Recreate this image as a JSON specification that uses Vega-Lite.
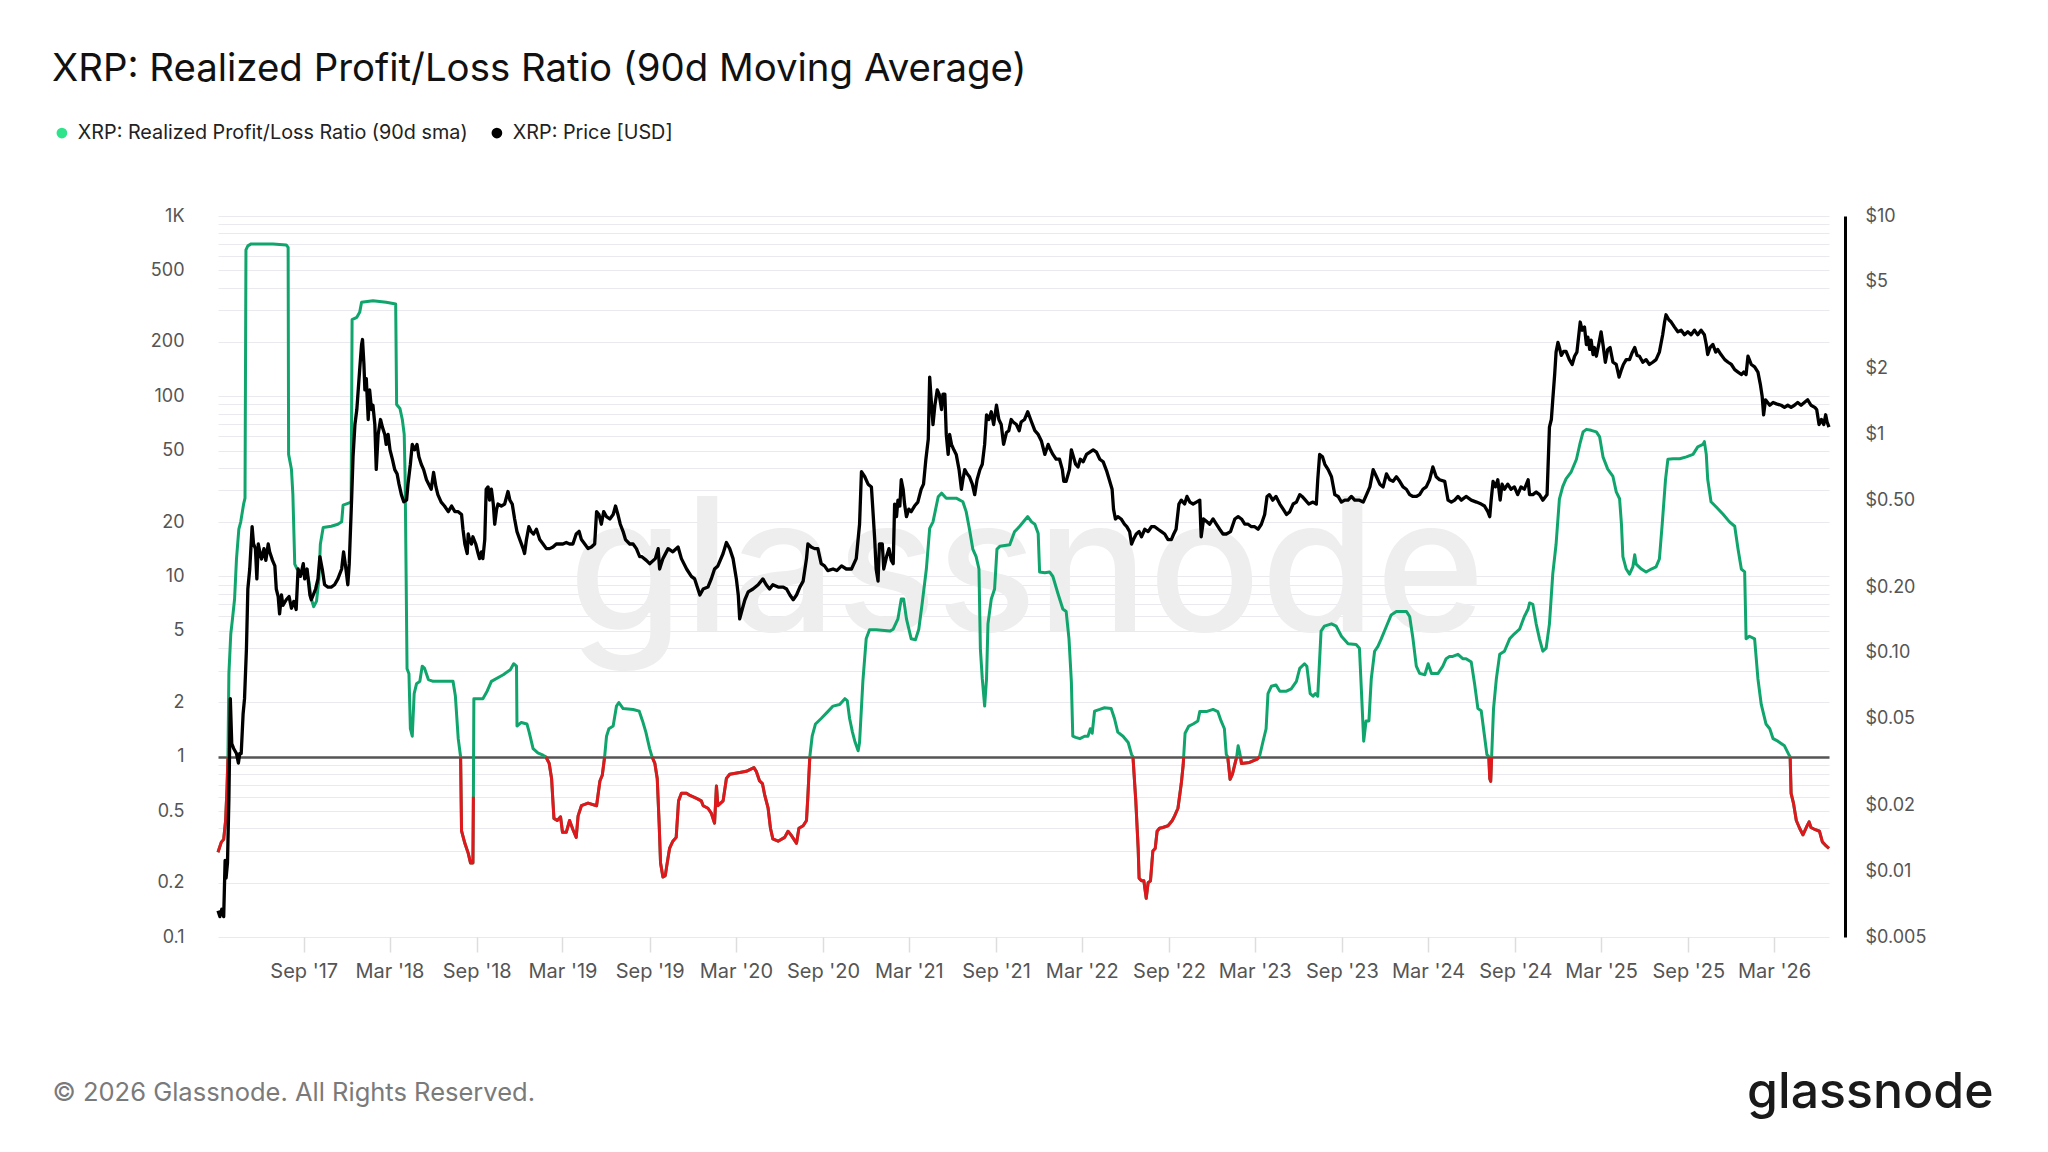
{
  "$schema": "https://vega.github.io/schema/vega-lite/v6.json",
  "width": 1611,
  "height": 721,
  "autosize": {"type": "none"},
  "padding": {"left": 218, "top": 216, "right": 219, "bottom": 215},
  "background": "white",
  "config": {"font": "Inter", "view": {"stroke": null}},
  "title": {
    "text": "XRP: Realized Profit/Loss Ratio (90d Moving Average)",
    "anchor": "start", "frame": "group", "dx": -166, "offset": 4,
    "baseline": "alphabetic", "fontSize": 38.4, "fontWeight": 400, "color": "#111111"
  },
  "datasets": {
    "ratio": [
      {"d":"2017-03-04","r":0.295,"s":1},{"d":"2017-03-11","r":0.336,"s":1},{"d":"2017-03-16","r":0.348,"s":1},{"d":"2017-03-20","r":0.441,"s":1},{"d":"2017-03-23","r":0.667,"s":1},{"d":"2017-03-25","r":1.0,"s":1},
      {"d":"2017-03-27","r":2.89},{"d":"2017-03-31","r":4.81},{"d":"2017-04-03","r":5.64},{"d":"2017-04-08","r":7.5},{"d":"2017-04-12","r":12.5},{"d":"2017-04-17","r":18.3},{"d":"2017-04-21","r":20.1},{"d":"2017-04-27","r":25.2},{"d":"2017-04-30","r":27.2},
      {"d":"2017-05-02","r":649},{"d":"2017-05-06","r":683},{"d":"2017-05-13","r":700},{"d":"2017-06-28","r":700},{"d":"2017-07-26","r":691},{"d":"2017-07-30","r":670},{"d":"2017-07-31","r":47.6},
      {"d":"2017-08-06","r":39.4},{"d":"2017-08-09","r":28.6},{"d":"2017-08-13","r":11.7},{"d":"2017-08-18","r":11},{"d":"2017-08-27","r":10.5},{"d":"2017-09-07","r":10.5},{"d":"2017-09-11","r":9.7},{"d":"2017-09-17","r":7.5},{"d":"2017-09-22","r":6.8},{"d":"2017-09-28","r":7.3},
      {"d":"2017-10-03","r":9.7},{"d":"2017-10-06","r":15.1},{"d":"2017-10-12","r":18.7},{"d":"2017-10-29","r":19},{"d":"2017-11-12","r":19.5},{"d":"2017-11-20","r":20.1},{"d":"2017-11-23","r":24.9},{"d":"2017-12-06","r":25.6},{"d":"2017-12-10","r":26},
      {"d":"2017-12-12","r":266},{"d":"2017-12-22","r":274},{"d":"2017-12-28","r":292},{"d":"2018-01-01","r":332},{"d":"2018-01-25","r":339},{"d":"2018-02-22","r":332},{"d":"2018-03-14","r":325},
      {"d":"2018-03-16","r":90},{"d":"2018-03-23","r":85.5},{"d":"2018-03-28","r":74.3},{"d":"2018-04-01","r":61.4},{"d":"2018-04-03","r":34.6},{"d":"2018-04-05","r":10.3},{"d":"2018-04-07","r":3.08},{"d":"2018-04-11","r":2.89},{"d":"2018-04-14","r":1.43},{"d":"2018-04-18","r":1.3},
      {"d":"2018-04-22","r":2.24},{"d":"2018-04-27","r":2.54},{"d":"2018-05-04","r":2.62},{"d":"2018-05-09","r":3.18},{"d":"2018-05-14","r":3.09},{"d":"2018-05-22","r":2.68},{"d":"2018-06-01","r":2.62},{"d":"2018-07-13","r":2.62},{"d":"2018-07-18","r":2.17},{"d":"2018-07-24","r":1.26},
      {"d":"2018-07-29","r":1.0,"s":2},{"d":"2018-07-31","r":0.388,"s":2},{"d":"2018-08-07","r":0.331,"s":2},{"d":"2018-08-14","r":0.292,"s":2},{"d":"2018-08-19","r":0.257,"s":2},{"d":"2018-08-24","r":0.257,"s":2},{"d":"2018-08-25","r":0.6,"s":2},
      {"d":"2018-08-26","r":2.1},{"d":"2018-09-14","r":2.1},{"d":"2018-09-23","r":2.31},{"d":"2018-10-02","r":2.62},{"d":"2018-10-27","r":2.85},{"d":"2018-11-11","r":3.04},{"d":"2018-11-18","r":3.28},{"d":"2018-11-24","r":3.18},{"d":"2018-11-25","r":1.48},
      {"d":"2018-12-04","r":1.55},{"d":"2018-12-16","r":1.52},{"d":"2018-12-21","r":1.36},{"d":"2018-12-29","r":1.11},{"d":"2019-01-08","r":1.05},{"d":"2019-01-19","r":1.02},
      {"d":"2019-01-25","r":1.0,"s":3},{"d":"2019-02-01","r":0.918,"s":3},{"d":"2019-02-06","r":0.758,"s":3},{"d":"2019-02-11","r":0.455,"s":3},{"d":"2019-02-18","r":0.443,"s":3},{"d":"2019-02-25","r":0.464,"s":3},{"d":"2019-03-01","r":0.381,"s":3},{"d":"2019-03-09","r":0.381,"s":3},{"d":"2019-03-16","r":0.443,"s":3},{"d":"2019-03-23","r":0.395,"s":3},{"d":"2019-03-30","r":0.357,"s":3},{"d":"2019-04-03","r":0.47,"s":3},{"d":"2019-04-10","r":0.535,"s":3},{"d":"2019-04-24","r":0.553,"s":3},{"d":"2019-05-12","r":0.535,"s":3},{"d":"2019-05-19","r":0.734,"s":3},{"d":"2019-05-24","r":0.79,"s":3},{"d":"2019-05-29","r":1.0,"s":3},
      {"d":"2019-06-02","r":1.3},{"d":"2019-06-07","r":1.43},{"d":"2019-06-16","r":1.48},{"d":"2019-06-23","r":1.91},{"d":"2019-06-28","r":2.0},{"d":"2019-07-07","r":1.85},{"d":"2019-07-28","r":1.83},{"d":"2019-08-10","r":1.79},{"d":"2019-08-17","r":1.58},{"d":"2019-08-24","r":1.37},{"d":"2019-09-01","r":1.11},
      {"d":"2019-09-06","r":1.0,"s":4},{"d":"2019-09-12","r":0.918,"s":4},{"d":"2019-09-17","r":0.758,"s":4},{"d":"2019-09-21","r":0.428,"s":4},{"d":"2019-09-24","r":0.257,"s":4},{"d":"2019-09-29","r":0.215,"s":4},{"d":"2019-10-04","r":0.219,"s":4},{"d":"2019-10-08","r":0.257,"s":4},{"d":"2019-10-13","r":0.31,"s":4},{"d":"2019-10-20","r":0.34,"s":4},{"d":"2019-10-27","r":0.357,"s":4},{"d":"2019-11-01","r":0.569,"s":4},{"d":"2019-11-07","r":0.627,"s":4},{"d":"2019-11-18","r":0.627,"s":4},{"d":"2019-11-25","r":0.61,"s":4},{"d":"2019-12-09","r":0.587,"s":4},{"d":"2019-12-19","r":0.569,"s":4},{"d":"2019-12-23","r":0.535,"s":4},
      {"d":"2020-01-02","r":0.518,"s":4},{"d":"2020-01-09","r":0.487,"s":4},{"d":"2020-01-16","r":0.428,"s":4},{"d":"2020-01-20","r":0.689,"s":4},{"d":"2020-01-23","r":0.535,"s":4},{"d":"2020-02-03","r":0.569,"s":4},{"d":"2020-02-10","r":0.758,"s":4},{"d":"2020-02-17","r":0.8,"s":4},{"d":"2020-03-09","r":0.818,"s":4},{"d":"2020-03-23","r":0.83,"s":4},{"d":"2020-04-08","r":0.87,"s":4},{"d":"2020-04-13","r":0.83,"s":4},{"d":"2020-04-20","r":0.734,"s":4},{"d":"2020-04-26","r":0.71,"s":4},{"d":"2020-05-01","r":0.61,"s":4},{"d":"2020-05-08","r":0.518,"s":4},{"d":"2020-05-13","r":0.401,"s":4},{"d":"2020-05-18","r":0.35,"s":4},{"d":"2020-05-29","r":0.34,"s":4},{"d":"2020-06-12","r":0.357,"s":4},{"d":"2020-06-19","r":0.386,"s":4},{"d":"2020-06-26","r":0.366,"s":4},{"d":"2020-07-07","r":0.331,"s":4},{"d":"2020-07-12","r":0.401,"s":4},{"d":"2020-07-21","r":0.414,"s":4},{"d":"2020-07-28","r":0.443,"s":4},{"d":"2020-07-31","r":0.61,"s":4},{"d":"2020-08-04","r":1.0,"s":4},
      {"d":"2020-08-09","r":1.3},{"d":"2020-08-16","r":1.52},{"d":"2020-08-28","r":1.63},{"d":"2020-09-11","r":1.78},{"d":"2020-09-22","r":1.91},{"d":"2020-10-06","r":1.95},{"d":"2020-10-17","r":2.1},{"d":"2020-10-22","r":2.05},{"d":"2020-10-27","r":1.63},{"d":"2020-11-02","r":1.37},{"d":"2020-11-07","r":1.22},{"d":"2020-11-14","r":1.08},{"d":"2020-11-17","r":1.2},{"d":"2020-11-24","r":2.62},{"d":"2020-12-01","r":4.51},{"d":"2020-12-08","r":5.06},{"d":"2020-12-22","r":5.06},
      {"d":"2021-01-20","r":4.98},{"d":"2021-01-27","r":5.1},{"d":"2021-02-06","r":5.82},{"d":"2021-02-13","r":7.5},{"d":"2021-02-18","r":7.5},{"d":"2021-02-24","r":5.82},{"d":"2021-03-06","r":4.51},{"d":"2021-03-15","r":4.46},{"d":"2021-03-22","r":5.1},{"d":"2021-03-29","r":7.05},{"d":"2021-04-07","r":11},{"d":"2021-04-14","r":18.5},{"d":"2021-04-21","r":20.1},{"d":"2021-05-02","r":27.7},{"d":"2021-05-09","r":29},{"d":"2021-05-19","r":27.2},{"d":"2021-06-09","r":27.2},{"d":"2021-06-23","r":26},{"d":"2021-06-30","r":22.9},
      {"d":"2021-07-07","r":18.3},{"d":"2021-07-14","r":14.2},{"d":"2021-07-21","r":12.9},{"d":"2021-07-27","r":11},{"d":"2021-07-30","r":3.97},{"d":"2021-08-03","r":2.71},{"d":"2021-08-08","r":1.91},{"d":"2021-08-12","r":2.71},{"d":"2021-08-15","r":5.46},{"d":"2021-08-22","r":7.5},{"d":"2021-08-29","r":8.53},{"d":"2021-09-03","r":14.2},{"d":"2021-09-09","r":14.7},{"d":"2021-09-30","r":15},{"d":"2021-10-10","r":17.7},{"d":"2021-10-21","r":19},{"d":"2021-11-07","r":21.5},{"d":"2021-11-15","r":20.1},{"d":"2021-11-22","r":19.5},{"d":"2021-11-29","r":17.3},{"d":"2021-12-02","r":10.6},{"d":"2021-12-13","r":10.5},{"d":"2021-12-23","r":10.6},{"d":"2021-12-30","r":10},
      {"d":"2022-01-10","r":8.0},{"d":"2022-01-20","r":6.6},{"d":"2022-01-27","r":6.4},{"d":"2022-02-02","r":4.51},{"d":"2022-02-07","r":2.62},{"d":"2022-02-10","r":1.3},{"d":"2022-02-16","r":1.28},{"d":"2022-02-25","r":1.26},{"d":"2022-03-07","r":1.3},{"d":"2022-03-14","r":1.3},{"d":"2022-03-19","r":1.43},{"d":"2022-03-23","r":1.35},{"d":"2022-03-28","r":1.79},{"d":"2022-04-08","r":1.83},{"d":"2022-04-18","r":1.87},{"d":"2022-05-02","r":1.85},{"d":"2022-05-09","r":1.63},{"d":"2022-05-16","r":1.37},{"d":"2022-05-27","r":1.3},{"d":"2022-06-07","r":1.2},{"d":"2022-06-14","r":1.03},
      {"d":"2022-06-17","r":1.0,"s":5},{"d":"2022-06-23","r":0.569,"s":5},{"d":"2022-06-28","r":0.31,"s":5},{"d":"2022-06-30","r":0.212,"s":5},{"d":"2022-07-05","r":0.205,"s":5},{"d":"2022-07-10","r":0.205,"s":5},{"d":"2022-07-15","r":0.164,"s":5},{"d":"2022-07-19","r":0.2,"s":5},{"d":"2022-07-24","r":0.205,"s":5},{"d":"2022-07-29","r":0.3,"s":5},{"d":"2022-08-03","r":0.31,"s":5},{"d":"2022-08-07","r":0.386,"s":5},{"d":"2022-08-12","r":0.401,"s":5},{"d":"2022-08-19","r":0.405,"s":5},{"d":"2022-08-30","r":0.414,"s":5},{"d":"2022-09-08","r":0.443,"s":5},{"d":"2022-09-13","r":0.47,"s":5},{"d":"2022-09-20","r":0.518,"s":5},{"d":"2022-09-27","r":0.71,"s":5},{"d":"2022-10-01","r":0.9,"s":5},{"d":"2022-10-02","r":1.0,"s":5},
      {"d":"2022-10-05","r":1.35},{"d":"2022-10-13","r":1.48},{"d":"2022-10-22","r":1.52},{"d":"2022-11-01","r":1.58},{"d":"2022-11-05","r":1.78},{"d":"2022-11-19","r":1.78},{"d":"2022-12-03","r":1.83},{"d":"2022-12-13","r":1.78},{"d":"2022-12-20","r":1.58},{"d":"2022-12-27","r":1.43},{"d":"2022-12-31","r":1.03},
      {"d":"2023-01-03","r":1.0,"s":6},{"d":"2023-01-08","r":0.749,"s":6},{"d":"2023-01-13","r":0.8,"s":6},{"d":"2023-01-19","r":0.93,"s":6},{"d":"2023-01-22","r":1.0,"s":6},
      {"d":"2023-01-25","r":1.15},{"d":"2023-01-28","r":1.06},
      {"d":"2023-01-30","r":1.0,"s":7},{"d":"2023-02-01","r":0.918,"s":7},{"d":"2023-02-18","r":0.93,"s":7},{"d":"2023-03-06","r":0.97,"s":7},{"d":"2023-03-11","r":1.0,"s":7},
      {"d":"2023-03-18","r":1.2},{"d":"2023-03-25","r":1.43},{"d":"2023-03-29","r":2.24},{"d":"2023-04-05","r":2.46},{"d":"2023-04-15","r":2.5},{"d":"2023-04-23","r":2.31},{"d":"2023-05-07","r":2.31},{"d":"2023-05-17","r":2.38},{"d":"2023-05-28","r":2.62},{"d":"2023-06-04","r":3.09},{"d":"2023-06-14","r":3.28},{"d":"2023-06-19","r":3.18},{"d":"2023-06-26","r":2.24},{"d":"2023-07-02","r":2.17},{"d":"2023-07-07","r":2.24},{"d":"2023-07-12","r":2.17},{"d":"2023-07-19","r":4.98},{"d":"2023-07-26","r":5.3},{"d":"2023-08-10","r":5.46},{"d":"2023-08-20","r":5.3},{"d":"2023-08-31","r":4.66},{"d":"2023-09-14","r":4.24},{"d":"2023-10-01","r":4.2},{"d":"2023-10-08","r":4.0},{"d":"2023-10-12","r":2.38},{"d":"2023-10-17","r":1.22},{"d":"2023-10-22","r":1.58},{"d":"2023-10-28","r":1.58},{"d":"2023-11-02","r":2.71},{"d":"2023-11-09","r":3.85},{"d":"2023-11-16","r":4.1},{"d":"2023-11-23","r":4.51},{"d":"2023-12-04","r":5.3},{"d":"2023-12-14","r":6.12},{"d":"2023-12-25","r":6.4},
      {"d":"2024-01-15","r":6.4},{"d":"2024-01-22","r":6.0},{"d":"2024-01-29","r":4.51},{"d":"2024-02-05","r":3.18},{"d":"2024-02-12","r":2.9},{"d":"2024-02-23","r":2.85},{"d":"2024-03-01","r":3.28},{"d":"2024-03-08","r":2.9},{"d":"2024-03-22","r":2.9},{"d":"2024-04-01","r":3.18},{"d":"2024-04-08","r":3.5},{"d":"2024-04-15","r":3.6},{"d":"2024-04-22","r":3.6},{"d":"2024-05-03","r":3.7},{"d":"2024-05-13","r":3.5},{"d":"2024-05-20","r":3.5},{"d":"2024-05-31","r":3.35},{"d":"2024-06-07","r":2.54},{"d":"2024-06-14","r":1.85},{"d":"2024-06-21","r":1.8},{"d":"2024-06-28","r":1.3},{"d":"2024-07-03","r":1.03},
      {"d":"2024-07-07","r":1.0,"s":8},{"d":"2024-07-09","r":0.758,"s":8},{"d":"2024-07-11","r":0.73,"s":8},{"d":"2024-07-13","r":1.0,"s":8},
      {"d":"2024-07-17","r":1.85},{"d":"2024-07-23","r":2.71},{"d":"2024-07-30","r":3.7},{"d":"2024-08-09","r":3.85},{"d":"2024-08-20","r":4.51},{"d":"2024-08-30","r":4.81},{"d":"2024-09-10","r":5.1},{"d":"2024-09-20","r":6.0},{"d":"2024-09-28","r":6.6},{"d":"2024-10-01","r":7.13},{"d":"2024-10-08","r":7.0},{"d":"2024-10-15","r":5.46},{"d":"2024-10-22","r":4.51},{"d":"2024-10-29","r":3.85},{"d":"2024-11-05","r":4.0},{"d":"2024-11-12","r":5.46},{"d":"2024-11-19","r":10.3},{"d":"2024-11-26","r":15.1},{"d":"2024-12-03","r":26.9},{"d":"2024-12-10","r":31.5},{"d":"2024-12-17","r":34.8},{"d":"2024-12-28","r":38.1},
      {"d":"2025-01-08","r":44.7},{"d":"2025-01-15","r":54},{"d":"2025-01-22","r":63.4},{"d":"2025-01-29","r":65.5},{"d":"2025-02-08","r":64.7},{"d":"2025-02-19","r":63.4},{"d":"2025-02-26","r":59.5},{"d":"2025-03-05","r":46.1},{"d":"2025-03-15","r":39.4},{"d":"2025-03-26","r":35.9},{"d":"2025-04-02","r":29.5},{"d":"2025-04-09","r":27},{"d":"2025-04-13","r":19.5},{"d":"2025-04-16","r":12.9},{"d":"2025-04-23","r":11},{"d":"2025-04-30","r":10.3},{"d":"2025-05-07","r":11.3},{"d":"2025-05-11","r":13.2},{"d":"2025-05-14","r":11.7},{"d":"2025-05-25","r":11},{"d":"2025-06-04","r":10.6},{"d":"2025-06-15","r":11},{"d":"2025-06-25","r":11.3},
      {"d":"2025-07-02","r":12.5},{"d":"2025-07-08","r":19.5},{"d":"2025-07-15","r":34.6},{"d":"2025-07-20","r":44.7},{"d":"2025-07-31","r":45},{"d":"2025-08-14","r":45},{"d":"2025-08-28","r":46.1},{"d":"2025-09-11","r":47.6},{"d":"2025-09-21","r":52.4},{"d":"2025-10-02","r":54},{"d":"2025-10-05","r":56},{"d":"2025-10-09","r":47.6},{"d":"2025-10-12","r":34.6},{"d":"2025-10-19","r":26},{"d":"2025-10-30","r":24.3},{"d":"2025-11-13","r":22.2},{"d":"2025-11-27","r":20.1},{"d":"2025-12-08","r":19},{"d":"2025-12-15","r":14.2},{"d":"2025-12-22","r":11},{"d":"2025-12-29","r":10.6},
      {"d":"2026-01-01","r":4.51},{"d":"2026-01-08","r":4.66},{"d":"2026-01-19","r":4.51},{"d":"2026-01-26","r":2.71},{"d":"2026-02-02","r":1.95},{"d":"2026-02-12","r":1.52},{"d":"2026-02-20","r":1.43},{"d":"2026-02-27","r":1.26},{"d":"2026-03-09","r":1.22},{"d":"2026-03-23","r":1.15},{"d":"2026-04-01","r":1.03},
      {"d":"2026-04-04","r":1.0,"s":9},{"d":"2026-04-06","r":0.627,"s":9},{"d":"2026-04-11","r":0.553,"s":9},{"d":"2026-04-17","r":0.443,"s":9},{"d":"2026-04-24","r":0.401,"s":9},{"d":"2026-05-01","r":0.369,"s":9},{"d":"2026-05-08","r":0.405,"s":9},{"d":"2026-05-14","r":0.435,"s":9},{"d":"2026-05-18","r":0.405,"s":9},{"d":"2026-05-26","r":0.395,"s":9},{"d":"2026-06-05","r":0.386,"s":9},{"d":"2026-06-11","r":0.337,"s":9},{"d":"2026-06-19","r":0.32,"s":9},{"d":"2026-06-25","r":0.31,"s":9}
    ],
    "price": [
      {"d":"2017-03-04","p":0.0066},{"d":"2017-03-08","p":0.0062},{"d":"2017-03-12","p":0.0067},{"d":"2017-03-16","p":0.0062},{"d":"2017-03-19","p":0.0112},{"d":"2017-03-21","p":0.0093},{"d":"2017-03-24","p":0.0109},{"d":"2017-03-27","p":0.0215},{"d":"2017-03-30","p":0.0617},
      {"d":"2017-04-02","p":0.0384},{"d":"2017-04-06","p":0.0365},{"d":"2017-04-12","p":0.0346},{"d":"2017-04-16","p":0.0313},{"d":"2017-04-19","p":0.0346},{"d":"2017-04-22","p":0.0346},{"d":"2017-04-26","p":0.0526},{"d":"2017-04-29","p":0.0617},
      {"d":"2017-05-03","p":0.104},{"d":"2017-05-06","p":0.196},{"d":"2017-05-10","p":0.242},{"d":"2017-05-15","p":0.378},{"d":"2017-05-18","p":0.315},{"d":"2017-05-22","p":0.3},{"d":"2017-05-25","p":0.218},{"d":"2017-05-28","p":0.315},{"d":"2017-06-01","p":0.285},{"d":"2017-06-04","p":0.269},{"d":"2017-06-09","p":0.3},{"d":"2017-06-13","p":0.265},{"d":"2017-06-18","p":0.315},{"d":"2017-06-21","p":0.29},{"d":"2017-06-27","p":0.265},
      {"d":"2017-07-02","p":0.25},{"d":"2017-07-05","p":0.196},{"d":"2017-07-09","p":0.181},{"d":"2017-07-12","p":0.151},{"d":"2017-07-16","p":0.184},{"d":"2017-07-19","p":0.165},{"d":"2017-07-26","p":0.175},{"d":"2017-08-01","p":0.181},{"d":"2017-08-06","p":0.16},{"d":"2017-08-11","p":0.172},{"d":"2017-08-16","p":0.158},{"d":"2017-08-20","p":0.242},{"d":"2017-08-25","p":0.224},{"d":"2017-08-31","p":0.256},
      {"d":"2017-09-03","p":0.218},{"d":"2017-09-08","p":0.242},{"d":"2017-09-14","p":0.184},{"d":"2017-09-17","p":0.175},{"d":"2017-09-21","p":0.184},{"d":"2017-09-26","p":0.196},{"d":"2017-10-01","p":0.218},{"d":"2017-10-05","p":0.276},{"d":"2017-10-10","p":0.242},{"d":"2017-10-15","p":0.205},{"d":"2017-10-22","p":0.2},{"d":"2017-10-29","p":0.2},{"d":"2017-11-05","p":0.205},{"d":"2017-11-12","p":0.218},{"d":"2017-11-20","p":0.242},{"d":"2017-11-24","p":0.29},{"d":"2017-11-29","p":0.242},
      {"d":"2017-12-03","p":0.205},{"d":"2017-12-06","p":0.256},{"d":"2017-12-11","p":0.505},{"d":"2017-12-14","p":0.789},{"d":"2017-12-18","p":1.11},{"d":"2017-12-22","p":1.3},{"d":"2017-12-28","p":1.98},{"d":"2018-01-01","p":2.58},{"d":"2018-01-03","p":2.72},{"d":"2018-01-06","p":2.09},{"d":"2018-01-08","p":1.6},{"d":"2018-01-11","p":1.8},{"d":"2018-01-15","p":1.17},{"d":"2018-01-18","p":1.6},{"d":"2018-01-22","p":1.3},{"d":"2018-01-25","p":1.36},{"d":"2018-01-29","p":1.11},
      {"d":"2018-02-01","p":0.692},{"d":"2018-02-05","p":1.0},{"d":"2018-02-10","p":1.17},{"d":"2018-02-14","p":1.08},{"d":"2018-02-19","p":1.0},{"d":"2018-02-22","p":0.9},{"d":"2018-02-26","p":1.0},{"d":"2018-03-02","p":0.85},{"d":"2018-03-07","p":0.77},{"d":"2018-03-12","p":0.69},{"d":"2018-03-17","p":0.66},{"d":"2018-03-21","p":0.592},{"d":"2018-03-26","p":0.53},{"d":"2018-03-31","p":0.492},
      {"d":"2018-04-06","p":0.5},{"d":"2018-04-09","p":0.592},{"d":"2018-04-14","p":0.73},{"d":"2018-04-18","p":0.9},{"d":"2018-04-23","p":0.85},{"d":"2018-04-28","p":0.9},{"d":"2018-05-02","p":0.79},{"d":"2018-05-07","p":0.73},{"d":"2018-05-12","p":0.69},{"d":"2018-05-18","p":0.62},{"d":"2018-05-23","p":0.59},{"d":"2018-05-28","p":0.561},{"d":"2018-06-02","p":0.67},{"d":"2018-06-07","p":0.575},{"d":"2018-06-11","p":0.53},{"d":"2018-06-18","p":0.49},{"d":"2018-06-25","p":0.47},
      {"d":"2018-07-03","p":0.443},{"d":"2018-07-10","p":0.47},{"d":"2018-07-17","p":0.443},{"d":"2018-07-24","p":0.443},{"d":"2018-07-31","p":0.43},{"d":"2018-08-03","p":0.368},{"d":"2018-08-07","p":0.315},{"d":"2018-08-12","p":0.285},{"d":"2018-08-14","p":0.35},{"d":"2018-08-17","p":0.33},{"d":"2018-08-21","p":0.315},{"d":"2018-08-24","p":0.34},{"d":"2018-08-30","p":0.315},
      {"d":"2018-09-04","p":0.285},{"d":"2018-09-07","p":0.27},{"d":"2018-09-11","p":0.29},{"d":"2018-09-14","p":0.27},{"d":"2018-09-18","p":0.33},{"d":"2018-09-21","p":0.561},{"d":"2018-09-25","p":0.575},{"d":"2018-09-28","p":0.5},{"d":"2018-10-02","p":0.561},{"d":"2018-10-06","p":0.48},{"d":"2018-10-09","p":0.388},{"d":"2018-10-13","p":0.455},{"d":"2018-10-16","p":0.48},{"d":"2018-10-23","p":0.47},{"d":"2018-10-30","p":0.48},
      {"d":"2018-11-06","p":0.548},{"d":"2018-11-10","p":0.5},{"d":"2018-11-15","p":0.48},{"d":"2018-11-20","p":0.41},{"d":"2018-11-25","p":0.359},{"d":"2018-12-01","p":0.33},{"d":"2018-12-08","p":0.3},{"d":"2018-12-11","p":0.285},{"d":"2018-12-15","p":0.33},{"d":"2018-12-20","p":0.378},{"d":"2018-12-25","p":0.359},{"d":"2018-12-30","p":0.35},
      {"d":"2019-01-05","p":0.368},{"d":"2019-01-12","p":0.33},{"d":"2019-01-19","p":0.315},{"d":"2019-01-26","p":0.3},{"d":"2019-02-02","p":0.3},{"d":"2019-02-09","p":0.305},{"d":"2019-02-16","p":0.315},{"d":"2019-02-23","p":0.315},{"d":"2019-03-02","p":0.315},{"d":"2019-03-09","p":0.32},{"d":"2019-03-16","p":0.315},{"d":"2019-03-23","p":0.315},{"d":"2019-03-30","p":0.35},{"d":"2019-04-05","p":0.36},{"d":"2019-04-10","p":0.33},{"d":"2019-04-17","p":0.315},{"d":"2019-04-24","p":0.3},{"d":"2019-05-01","p":0.305},{"d":"2019-05-08","p":0.315},
      {"d":"2019-05-12","p":0.443},{"d":"2019-05-17","p":0.43},{"d":"2019-05-22","p":0.388},{"d":"2019-05-27","p":0.443},{"d":"2019-06-02","p":0.42},{"d":"2019-06-09","p":0.41},{"d":"2019-06-16","p":0.43},{"d":"2019-06-21","p":0.47},{"d":"2019-06-26","p":0.43},{"d":"2019-07-01","p":0.388},{"d":"2019-07-07","p":0.359},{"d":"2019-07-12","p":0.33},{"d":"2019-07-21","p":0.315},{"d":"2019-07-28","p":0.315},{"d":"2019-08-04","p":0.3},{"d":"2019-08-11","p":0.276},{"d":"2019-08-15","p":0.276},{"d":"2019-08-25","p":0.265},
      {"d":"2019-09-01","p":0.256},{"d":"2019-09-13","p":0.27},{"d":"2019-09-19","p":0.3},{"d":"2019-09-22","p":0.242},{"d":"2019-09-29","p":0.27},{"d":"2019-10-10","p":0.3},{"d":"2019-10-20","p":0.29},{"d":"2019-10-31","p":0.305},{"d":"2019-11-07","p":0.27},{"d":"2019-11-18","p":0.242},{"d":"2019-11-28","p":0.224},{"d":"2019-12-05","p":0.218},{"d":"2019-12-16","p":0.184},{"d":"2019-12-23","p":0.196},
      {"d":"2020-01-02","p":0.2},{"d":"2020-01-09","p":0.218},{"d":"2020-01-16","p":0.242},{"d":"2020-01-23","p":0.25},{"d":"2020-02-03","p":0.285},{"d":"2020-02-10","p":0.32},{"d":"2020-02-17","p":0.3},{"d":"2020-02-24","p":0.27},{"d":"2020-03-02","p":0.218},{"d":"2020-03-06","p":0.184},{"d":"2020-03-09","p":0.143},{"d":"2020-03-15","p":0.16},{"d":"2020-03-20","p":0.175},{"d":"2020-03-27","p":0.19},
      {"d":"2020-04-06","p":0.196},{"d":"2020-04-17","p":0.205},{"d":"2020-04-27","p":0.218},{"d":"2020-05-04","p":0.205},{"d":"2020-05-11","p":0.196},{"d":"2020-05-18","p":0.205},{"d":"2020-05-29","p":0.2},{"d":"2020-06-09","p":0.2},{"d":"2020-06-16","p":0.196},{"d":"2020-06-23","p":0.184},{"d":"2020-06-30","p":0.175},{"d":"2020-07-07","p":0.184},{"d":"2020-07-14","p":0.2},{"d":"2020-07-21","p":0.213},{"d":"2020-07-28","p":0.27},{"d":"2020-07-31","p":0.315},
      {"d":"2020-08-07","p":0.305},{"d":"2020-08-14","p":0.3},{"d":"2020-08-21","p":0.3},{"d":"2020-08-28","p":0.256},{"d":"2020-09-04","p":0.25},{"d":"2020-09-11","p":0.238},{"d":"2020-09-22","p":0.242},{"d":"2020-09-30","p":0.238},{"d":"2020-10-10","p":0.25},{"d":"2020-10-20","p":0.242},{"d":"2020-10-31","p":0.242},{"d":"2020-11-10","p":0.27},{"d":"2020-11-17","p":0.388},{"d":"2020-11-21","p":0.675},{"d":"2020-11-28","p":0.64},
      {"d":"2020-12-05","p":0.592},{"d":"2020-12-12","p":0.575},{"d":"2020-12-15","p":0.455},{"d":"2020-12-19","p":0.33},{"d":"2020-12-22","p":0.242},{"d":"2020-12-26","p":0.213},{"d":"2020-12-29","p":0.315},{"d":"2021-01-04","p":0.315},{"d":"2021-01-07","p":0.242},{"d":"2021-01-13","p":0.276},{"d":"2021-01-18","p":0.3},{"d":"2021-01-23","p":0.265},{"d":"2021-01-27","p":0.256},{"d":"2021-01-30","p":0.48},
      {"d":"2021-02-03","p":0.42},{"d":"2021-02-06","p":0.5},{"d":"2021-02-10","p":0.47},{"d":"2021-02-13","p":0.62},{"d":"2021-02-17","p":0.561},{"d":"2021-02-20","p":0.48},{"d":"2021-02-24","p":0.42},{"d":"2021-03-01","p":0.455},{"d":"2021-03-06","p":0.443},{"d":"2021-03-13","p":0.47},{"d":"2021-03-20","p":0.49},{"d":"2021-03-27","p":0.561},{"d":"2021-04-01","p":0.592},{"d":"2021-04-06","p":0.77},{"d":"2021-04-11","p":0.95},{"d":"2021-04-14","p":1.83},{"d":"2021-04-18","p":1.36},{"d":"2021-04-21","p":1.11},{"d":"2021-04-25","p":1.36},{"d":"2021-04-30","p":1.6},
      {"d":"2021-05-04","p":1.53},{"d":"2021-05-09","p":1.3},{"d":"2021-05-12","p":1.53},{"d":"2021-05-16","p":1.53},{"d":"2021-05-19","p":1.0},{"d":"2021-05-23","p":0.81},{"d":"2021-05-26","p":1.0},{"d":"2021-05-30","p":0.9},{"d":"2021-06-04","p":0.85},{"d":"2021-06-09","p":0.81},{"d":"2021-06-15","p":0.69},{"d":"2021-06-20","p":0.561},{"d":"2021-06-23","p":0.62},{"d":"2021-06-27","p":0.69},{"d":"2021-07-02","p":0.66},{"d":"2021-07-07","p":0.64},{"d":"2021-07-13","p":0.592},{"d":"2021-07-18","p":0.53},{"d":"2021-07-23","p":0.62},{"d":"2021-07-29","p":0.69},
      {"d":"2021-08-03","p":0.73},{"d":"2021-08-08","p":0.9},{"d":"2021-08-12","p":1.23},{"d":"2021-08-17","p":1.17},{"d":"2021-08-22","p":1.27},{"d":"2021-08-27","p":1.11},{"d":"2021-09-02","p":1.36},{"d":"2021-09-07","p":1.17},{"d":"2021-09-12","p":1.11},{"d":"2021-09-17","p":0.9},{"d":"2021-09-23","p":1.02},{"d":"2021-09-28","p":1.04},{"d":"2021-10-03","p":1.17},{"d":"2021-10-07","p":1.14},{"d":"2021-10-14","p":1.11},{"d":"2021-10-20","p":1.04},{"d":"2021-10-24","p":1.14},{"d":"2021-10-31","p":1.17},
      {"d":"2021-11-07","p":1.27},{"d":"2021-11-15","p":1.14},{"d":"2021-11-22","p":1.04},{"d":"2021-11-29","p":1.0},{"d":"2021-12-06","p":0.93},{"d":"2021-12-13","p":0.81},{"d":"2021-12-20","p":0.9},{"d":"2021-12-25","p":0.85},{"d":"2021-12-30","p":0.81},
      {"d":"2022-01-06","p":0.77},{"d":"2022-01-13","p":0.77},{"d":"2022-01-19","p":0.69},{"d":"2022-01-22","p":0.61},{"d":"2022-01-27","p":0.61},{"d":"2022-02-03","p":0.69},{"d":"2022-02-07","p":0.85},{"d":"2022-02-10","p":0.81},{"d":"2022-02-16","p":0.73},{"d":"2022-02-21","p":0.71},{"d":"2022-02-26","p":0.77},{"d":"2022-03-04","p":0.75},{"d":"2022-03-11","p":0.81},{"d":"2022-03-18","p":0.83},{"d":"2022-03-25","p":0.85},{"d":"2022-04-01","p":0.83},{"d":"2022-04-08","p":0.77},{"d":"2022-04-15","p":0.75},{"d":"2022-04-23","p":0.675},{"d":"2022-04-29","p":0.61},
      {"d":"2022-05-04","p":0.561},{"d":"2022-05-07","p":0.455},{"d":"2022-05-11","p":0.41},{"d":"2022-05-16","p":0.42},{"d":"2022-05-23","p":0.41},{"d":"2022-05-30","p":0.388},{"d":"2022-06-04","p":0.378},{"d":"2022-06-10","p":0.359},{"d":"2022-06-14","p":0.315},{"d":"2022-06-18","p":0.33},{"d":"2022-06-24","p":0.35},{"d":"2022-06-30","p":0.359},{"d":"2022-07-05","p":0.34},{"d":"2022-07-12","p":0.368},{"d":"2022-07-19","p":0.359},{"d":"2022-07-26","p":0.378},{"d":"2022-08-02","p":0.378},{"d":"2022-08-09","p":0.368},{"d":"2022-08-16","p":0.359},{"d":"2022-08-23","p":0.35},{"d":"2022-08-30","p":0.33},
      {"d":"2022-09-06","p":0.33},{"d":"2022-09-11","p":0.35},{"d":"2022-09-16","p":0.368},{"d":"2022-09-22","p":0.48},{"d":"2022-09-27","p":0.5},{"d":"2022-10-04","p":0.48},{"d":"2022-10-09","p":0.52},{"d":"2022-10-15","p":0.49},{"d":"2022-10-22","p":0.48},{"d":"2022-10-29","p":0.49},{"d":"2022-11-05","p":0.5},{"d":"2022-11-08","p":0.34},{"d":"2022-11-13","p":0.41},{"d":"2022-11-19","p":0.4},{"d":"2022-11-26","p":0.388},{"d":"2022-12-03","p":0.41},{"d":"2022-12-10","p":0.388},{"d":"2022-12-17","p":0.368},{"d":"2022-12-24","p":0.35},{"d":"2022-12-31","p":0.35},
      {"d":"2023-01-09","p":0.359},{"d":"2023-01-18","p":0.41},{"d":"2023-01-25","p":0.42},{"d":"2023-02-01","p":0.41},{"d":"2023-02-08","p":0.388},{"d":"2023-02-15","p":0.388},{"d":"2023-02-22","p":0.378},{"d":"2023-03-01","p":0.378},{"d":"2023-03-08","p":0.368},{"d":"2023-03-15","p":0.388},{"d":"2023-03-22","p":0.43},{"d":"2023-03-27","p":0.52},{"d":"2023-04-01","p":0.53},{"d":"2023-04-08","p":0.5},{"d":"2023-04-15","p":0.52},{"d":"2023-04-23","p":0.48},{"d":"2023-04-30","p":0.455},
      {"d":"2023-05-07","p":0.43},{"d":"2023-05-14","p":0.443},{"d":"2023-05-21","p":0.48},{"d":"2023-05-28","p":0.49},{"d":"2023-06-04","p":0.53},{"d":"2023-06-09","p":0.52},{"d":"2023-06-16","p":0.5},{"d":"2023-06-23","p":0.48},{"d":"2023-07-02","p":0.49},{"d":"2023-07-09","p":0.48},{"d":"2023-07-12","p":0.62},{"d":"2023-07-16","p":0.81},{"d":"2023-07-22","p":0.79},{"d":"2023-07-27","p":0.73},{"d":"2023-08-03","p":0.69},{"d":"2023-08-10","p":0.64},{"d":"2023-08-17","p":0.53},{"d":"2023-08-24","p":0.52},{"d":"2023-08-31","p":0.49},
      {"d":"2023-09-07","p":0.5},{"d":"2023-09-14","p":0.5},{"d":"2023-09-21","p":0.52},{"d":"2023-09-28","p":0.5},{"d":"2023-10-08","p":0.5},{"d":"2023-10-16","p":0.49},{"d":"2023-10-23","p":0.53},{"d":"2023-10-30","p":0.575},{"d":"2023-11-06","p":0.69},{"d":"2023-11-13","p":0.64},{"d":"2023-11-20","p":0.592},{"d":"2023-11-27","p":0.575},{"d":"2023-12-04","p":0.66},{"d":"2023-12-11","p":0.62},{"d":"2023-12-18","p":0.61},{"d":"2023-12-25","p":0.64},
      {"d":"2024-01-01","p":0.61},{"d":"2024-01-08","p":0.575},{"d":"2024-01-15","p":0.561},{"d":"2024-01-22","p":0.53},{"d":"2024-01-29","p":0.52},{"d":"2024-02-05","p":0.52},{"d":"2024-02-12","p":0.53},{"d":"2024-02-19","p":0.561},{"d":"2024-02-26","p":0.575},{"d":"2024-03-04","p":0.62},{"d":"2024-03-11","p":0.71},{"d":"2024-03-18","p":0.64},{"d":"2024-03-25","p":0.62},{"d":"2024-04-05","p":0.61},{"d":"2024-04-12","p":0.5},{"d":"2024-04-19","p":0.49},{"d":"2024-04-26","p":0.5},
      {"d":"2024-05-03","p":0.52},{"d":"2024-05-10","p":0.5},{"d":"2024-05-20","p":0.52},{"d":"2024-05-31","p":0.5},{"d":"2024-06-11","p":0.49},{"d":"2024-06-21","p":0.48},{"d":"2024-06-28","p":0.47},{"d":"2024-07-05","p":0.443},{"d":"2024-07-09","p":0.42},{"d":"2024-07-12","p":0.5},{"d":"2024-07-16","p":0.61},{"d":"2024-07-21","p":0.575},{"d":"2024-07-26","p":0.62},{"d":"2024-07-31","p":0.5},{"d":"2024-08-04","p":0.592},{"d":"2024-08-09","p":0.561},{"d":"2024-08-16","p":0.592},{"d":"2024-08-23","p":0.561},{"d":"2024-08-30","p":0.575},
      {"d":"2024-09-06","p":0.53},{"d":"2024-09-13","p":0.575},{"d":"2024-09-20","p":0.561},{"d":"2024-09-28","p":0.62},{"d":"2024-10-01","p":0.53},{"d":"2024-10-08","p":0.53},{"d":"2024-10-15","p":0.545},{"d":"2024-10-22","p":0.53},{"d":"2024-10-29","p":0.5},{"d":"2024-11-04","p":0.52},{"d":"2024-11-07","p":0.53},{"d":"2024-11-12","p":1.08},{"d":"2024-11-16","p":1.17},{"d":"2024-11-19","p":1.44},{"d":"2024-11-23","p":1.88},{"d":"2024-11-26","p":2.38},{"d":"2024-11-30","p":2.64},
      {"d":"2024-12-03","p":2.5},{"d":"2024-12-07","p":2.3},{"d":"2024-12-12","p":2.4},{"d":"2024-12-17","p":2.4},{"d":"2024-12-24","p":2.2},{"d":"2024-12-30","p":2.09},{"d":"2025-01-04","p":2.28},{"d":"2025-01-09","p":2.38},{"d":"2025-01-13","p":2.86},{"d":"2025-01-16","p":3.27},{"d":"2025-01-20","p":3.0},{"d":"2025-01-25","p":3.1},{"d":"2025-01-29","p":2.58},{"d":"2025-02-01","p":2.79},{"d":"2025-02-05","p":2.45},{"d":"2025-02-08","p":2.7},{"d":"2025-02-12","p":2.32},{"d":"2025-02-15","p":2.5},{"d":"2025-02-19","p":2.28},{"d":"2025-02-24","p":2.58},
      {"d":"2025-03-01","p":2.95},{"d":"2025-03-05","p":2.58},{"d":"2025-03-10","p":2.14},{"d":"2025-03-15","p":2.45},{"d":"2025-03-20","p":2.5},{"d":"2025-03-26","p":2.14},{"d":"2025-04-02","p":2.09},{"d":"2025-04-08","p":1.83},{"d":"2025-04-13","p":1.98},{"d":"2025-04-17","p":2.09},{"d":"2025-04-23","p":2.2},{"d":"2025-04-30","p":2.2},{"d":"2025-05-06","p":2.38},{"d":"2025-05-11","p":2.5},{"d":"2025-05-16","p":2.3},{"d":"2025-05-21","p":2.28},{"d":"2025-05-28","p":2.14},
      {"d":"2025-06-04","p":2.2},{"d":"2025-06-11","p":2.09},{"d":"2025-06-18","p":2.14},{"d":"2025-06-25","p":2.2},{"d":"2025-07-02","p":2.38},{"d":"2025-07-09","p":2.86},{"d":"2025-07-13","p":3.27},{"d":"2025-07-16","p":3.53},{"d":"2025-07-22","p":3.35},{"d":"2025-07-27","p":3.27},{"d":"2025-08-03","p":3.1},{"d":"2025-08-10","p":2.95},{"d":"2025-08-17","p":3.0},{"d":"2025-08-24","p":2.86},{"d":"2025-08-31","p":2.95},
      {"d":"2025-09-07","p":2.86},{"d":"2025-09-14","p":3.0},{"d":"2025-09-21","p":2.86},{"d":"2025-09-28","p":3.0},{"d":"2025-10-05","p":2.86},{"d":"2025-10-09","p":2.58},{"d":"2025-10-12","p":2.32},{"d":"2025-10-17","p":2.5},{"d":"2025-10-23","p":2.58},{"d":"2025-10-29","p":2.38},{"d":"2025-11-02","p":2.45},{"d":"2025-11-09","p":2.32},{"d":"2025-11-17","p":2.2},{"d":"2025-11-24","p":2.14},{"d":"2025-12-01","p":2.09},{"d":"2025-12-08","p":1.98},{"d":"2025-12-15","p":1.93},{"d":"2025-12-22","p":1.88},{"d":"2025-12-27","p":1.93},
      {"d":"2026-01-01","p":1.88},{"d":"2026-01-05","p":2.28},{"d":"2026-01-12","p":2.09},{"d":"2026-01-19","p":2.04},{"d":"2026-01-26","p":1.93},{"d":"2026-01-31","p":1.7},{"d":"2026-02-04","p":1.49},{"d":"2026-02-07","p":1.23},{"d":"2026-02-11","p":1.44},{"d":"2026-02-20","p":1.36},{"d":"2026-02-27","p":1.4},{"d":"2026-03-06","p":1.38},{"d":"2026-03-16","p":1.36},{"d":"2026-03-23","p":1.33},{"d":"2026-03-30","p":1.36},{"d":"2026-04-06","p":1.33},{"d":"2026-04-13","p":1.36},{"d":"2026-04-20","p":1.4},{"d":"2026-04-27","p":1.36},
      {"d":"2026-05-04","p":1.4},{"d":"2026-05-11","p":1.44},{"d":"2026-05-18","p":1.36},{"d":"2026-05-26","p":1.33},{"d":"2026-05-30","p":1.3},{"d":"2026-06-04","p":1.11},{"d":"2026-06-09","p":1.17},{"d":"2026-06-14","p":1.11},{"d":"2026-06-18","p":1.23},{"d":"2026-06-21","p":1.14},{"d":"2026-06-25","p":1.08}
    ]
  },
  "layer": [
    {
      "layer": [
        {
          "data": {"values": [{}]},
          "mark": {"type": "text", "text": "glassnode", "font": "Inter", "fontSize": 186, "fontWeight": 500, "fill": "#eeeeee", "align": "center", "baseline": "alphabetic"},
          "encoding": {
            "x": {"datum": {"year": 2021, "month": 11, "date": 5, "utc": true}, "type": "temporal"},
            "y": {"datum": 5, "type": "quantitative"}
          }
        },
        {
          "data": {"name": "ratio"},
          "mark": {"type": "line", "strokeWidth": 3, "strokeJoin": "round"},
          "encoding": {
            "x": {
              "field": "d", "type": "temporal",
              "scale": {"type": "utc", "nice": false, "domain": [{"year": 2017, "month": 3, "date": 4, "utc": true}, {"year": 2026, "month": 6, "date": 25, "utc": true}]},
              "axis": {
                "values": [
                  {"year": 2017, "month": 9, "date": 1, "utc": true}, {"year": 2018, "month": 3, "date": 1, "utc": true},
                  {"year": 2018, "month": 9, "date": 1, "utc": true}, {"year": 2019, "month": 3, "date": 1, "utc": true},
                  {"year": 2019, "month": 9, "date": 1, "utc": true}, {"year": 2020, "month": 3, "date": 1, "utc": true},
                  {"year": 2020, "month": 9, "date": 1, "utc": true}, {"year": 2021, "month": 3, "date": 1, "utc": true},
                  {"year": 2021, "month": 9, "date": 1, "utc": true}, {"year": 2022, "month": 3, "date": 1, "utc": true},
                  {"year": 2022, "month": 9, "date": 1, "utc": true}, {"year": 2023, "month": 3, "date": 1, "utc": true},
                  {"year": 2023, "month": 9, "date": 1, "utc": true}, {"year": 2024, "month": 3, "date": 1, "utc": true},
                  {"year": 2024, "month": 9, "date": 1, "utc": true}, {"year": 2025, "month": 3, "date": 1, "utc": true},
                  {"year": 2025, "month": 9, "date": 1, "utc": true}, {"year": 2026, "month": 3, "date": 1, "utc": true}
                ],
                "format": "%b '%y", "grid": false, "domain": false,
                "ticks": true, "tickSize": 15, "tickColor": "#dddddd", "tickWidth": 1.5,
                "labelFontSize": 20, "labelColor": "#555555", "labelPadding": 9, "labelFont": "Inter",
                "title": "© 2026 Glassnode. All Rights Reserved.",
                "titleX": -166, "titleY": 163, "titleAlign": "left", "titleBaseline": "alphabetic",
                "titleFontSize": 25.5, "titleFontWeight": 400, "titleColor": "#7a7a7a", "titleFont": "Inter"
              }
            },
            "y": {
              "field": "r", "type": "quantitative",
              "scale": {"type": "log", "domain": [0.1, 1000], "nice": false},
              "axis": {
                "values": [0.1,0.2,0.3,0.4,0.5,0.6,0.7,0.8,0.9,1,2,3,4,5,6,7,8,9,10,20,30,40,50,60,70,80,90,100,200,300,400,500,600,700,800,900,1000],
                "labelExpr": "indexof([0.1,0.2,0.5,1,2,5,10,20,50,100,200,500,1000], datum.value) >= 0 ? (datum.value == 1000 ? '1K' : format(datum.value, '~g')) : ''",
                "labelOverlap": false, "ticks": false, "tickSize": 0, "domain": false,
                "labelPadding": 34, "labelFontSize": 18, "labelColor": "#555555", "labelFont": "Inter",
                "grid": true,
                "gridColor": {"condition": {"test": "datum.value === 1", "value": "#555555"}, "value": "#eaeaee"},
                "gridWidth": {"condition": {"test": "datum.value === 1", "value": 2.5}, "value": 1},
                "title": null
              }
            },
            "color": {
              "datum": "XRP: Realized Profit/Loss Ratio (90d sma)", "type": "nominal",
              "scale": {"domain": ["XRP: Realized Profit/Loss Ratio (90d sma)", "XRP: Price [USD]"], "range": ["#10a56c", "#000000"]},
              "legend": {
                "title": null, "orient": "none", "legendX": -166, "legendY": -93, "direction": "horizontal",
                "symbolType": "circle", "symbolSize": 115, "labelFontSize": 19.8, "labelColor": "#222222", "labelFont": "Inter",
                "labelLimit": 0, "columnPadding": 19, "labelOffset": 6,
                "encode": {"symbols": {"update": {"fill": {"signal": "datum.value === 'XRP: Price [USD]' ? '#000000' : '#2fe38a'"}, "strokeWidth": {"value": 0}, "opacity": {"value": 1}}}}
              }
            }
          }
        },
        {
          "data": {"name": "ratio"},
          "transform": [{"filter": "isValid(datum.s)"}],
          "mark": {"type": "line", "stroke": "#e3161b", "strokeWidth": 3, "strokeJoin": "round"},
          "encoding": {
            "x": {"field": "d", "type": "temporal"},
            "y": {"field": "r", "type": "quantitative"},
            "detail": {"field": "s", "type": "nominal"}
          }
        }
      ]
    },
    {
      "data": {"name": "price"},
      "mark": {"type": "line", "strokeWidth": 3.3, "strokeJoin": "round"},
      "encoding": {
        "x": {"field": "d", "type": "temporal"},
        "y": {
          "field": "p", "type": "quantitative",
          "scale": {"type": "log", "domain": [0.005, 10], "nice": false},
          "axis": {
            "orient": "right", "offset": 16,
            "values": [0.005, 0.01, 0.02, 0.05, 0.1, 0.2, 0.5, 1, 2, 5, 10],
            "labelExpr": "datum.value >= 1 ? '$' + format(datum.value, 'd') : (datum.value < 0.009 ? '$0.005' : '$' + format(datum.value, '.2f'))",
            "labelOverlap": false, "ticks": false, "tickSize": 0, "grid": false,
            "domain": true, "domainColor": "#000000", "domainWidth": 3,
            "labelPadding": 20, "labelFontSize": 18, "labelColor": "#555555", "labelFont": "Inter",
            "title": "glassnode", "titleAngle": 0, "titleX": 148, "titleY": 891,
            "titleAlign": "right", "titleBaseline": "alphabetic",
            "titleFontSize": 50, "titleFontWeight": 500, "titleColor": "#1a1a1a", "titleFont": "Inter"
          }
        },
        "color": {"datum": "XRP: Price [USD]", "type": "nominal"}
      }
    }
  ],
  "resolve": {"scale": {"y": "independent"}}
}
